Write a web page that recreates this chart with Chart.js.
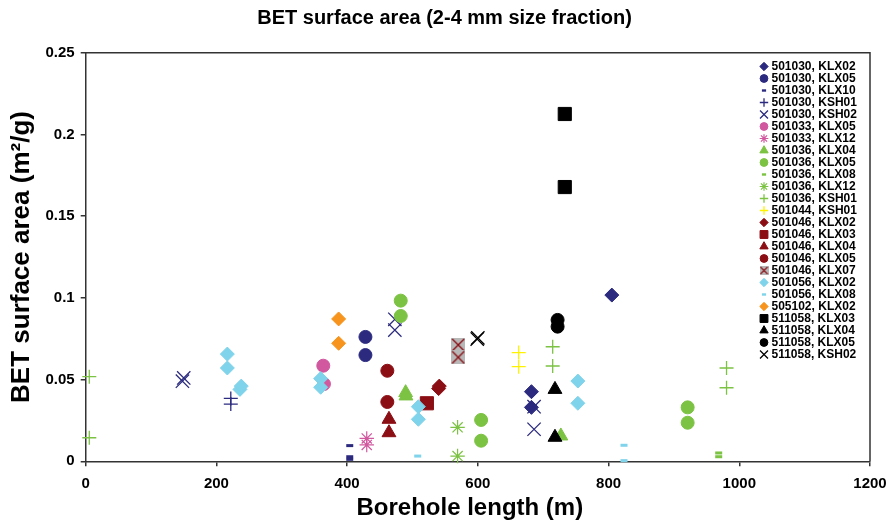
<!DOCTYPE html>
<html>
<head>
<meta charset="utf-8">
<style>
html,body{margin:0;padding:0;background:#ffffff;}
#wrap{width:889px;height:531px;position:relative;}
</style>
<script src="https://cdn.jsdelivr.net/npm/chart.js@4/dist/chart.umd.min.js"></script>
</head>
<body>
<div id="wrap"><canvas id="c" width="889" height="531"></canvas></div>
<script>
const FONT = "'Liberation Sans', Arial, Helvetica, sans-serif";

const chartTitle = 'BET surface area (2-4 mm size fraction)';
const xAxisTitle = 'Borehole length (m)';
const yAxisTitle = 'BET surface area (m²/g)';

const xTickValues = [0, 200, 400, 600, 800, 1000, 1200];
const xTickLabels = ['0', '200', '400', '600', '800', '1000', '1200'];
const yTickValues = [0, 0.05, 0.1, 0.15, 0.2, 0.25];
const yTickLabels = ['0', '0.05', '0.1', '0.15', '0.2', '0.25'];

const seriesNames = [
  '501030, KLX02', '501030, KLX05', '501030, KLX10', '501030, KSH01', '501030, KSH02',
  '501033, KLX05', '501033, KLX12',
  '501036, KLX04', '501036, KLX05', '501036, KLX08', '501036, KLX12', '501036, KSH01',
  '501044, KSH01',
  '501046, KLX02', '501046, KLX03', '501046, KLX04', '501046, KLX05', '501046, KLX07',
  '501056, KLX02', '501056, KLX08',
  '505102, KLX02',
  '511058, KLX03', '511058, KLX04', '511058, KLX05', '511058, KSH02'
];

// Borehole length (m) per series
const seriesX = [
  [682, 682, 805],
  [428, 428],
  [404, 404, 404],
  [222, 222],
  [148, 150, 473, 473, 686, 686],
  [363.5, 364.5],
  [430, 430],
  [489.5, 490, 727],
  [482, 482, 605, 605, 921, 921],
  [968.5, 968.5],
  [569, 569],
  [5.5, 5.5, 714.5, 714.5, 980.5, 980.5],
  [662.5, 662.5],
  [540, 541],
  [522],
  [464, 464],
  [461.5, 461.5],
  [570, 570],
  [216.7, 216.7, 236, 238, 359.5, 359.5, 509, 509, 753, 753],
  [508, 823.6, 823.6],
  [387, 387],
  [733, 733],
  [718, 718],
  [722, 722],
  [599, 600]
];

// BET surface area (m2/g) per series
const seriesY = [
  [0.0426, 0.0330, 0.1017],
  [0.0761, 0.0650],
  [0.0096, 0.0028, 0.0012],
  [0.0385, 0.0350],
  [0.0490, 0.0510, 0.0869, 0.0803, 0.0334, 0.0196],
  [0.0585, 0.0473],
  [0.0140, 0.0100],
  [0.0420, 0.0400, 0.0155],
  [0.0983, 0.0889, 0.0253, 0.0126, 0.0330, 0.0236],
  [0.0051, 0.0028],
  [0.0208, 0.0032],
  [0.0518, 0.0144, 0.0701, 0.0583, 0.0571, 0.0450],
  [0.0665, 0.0579],
  [0.0445, 0.0460],
  [0.0355],
  [0.0257, 0.0175],
  [0.0554, 0.0363],
  [0.0712, 0.0636],
  [0.0656, 0.0571, 0.0440, 0.0460, 0.0506, 0.0453, 0.0334, 0.0257, 0.0491, 0.0355],
  [0.0032, 0.0098, 0.0004],
  [0.0871, 0.0722],
  [0.2125, 0.1678],
  [0.0440, 0.0147],
  [0.0865, 0.0824],
  [0.0748, 0.0755]
];

const NAVY = '#2B2A7F', PINK = '#D1579F', GREEN = '#7CC243', YELLOW = '#FFF200',
      DRED = '#8B0E14', LBLUE = '#7FD3EA', ORANGE = '#F7941D', BLACK = '#000000';

const seriesColors = [
  NAVY, NAVY, NAVY, NAVY, NAVY,
  PINK, PINK,
  GREEN, GREEN, GREEN, GREEN, GREEN,
  YELLOW,
  DRED, DRED, DRED, DRED, DRED,
  LBLUE, LBLUE,
  ORANGE,
  BLACK, BLACK, BLACK, BLACK
];

const seriesShapes = [
  'diamond', 'circle', 'dash', 'plus', 'x',
  'circle', 'star',
  'triangle', 'circle', 'dash', 'star', 'plus',
  'plus',
  'diamond', 'square', 'triangle', 'circle', 'boxx',
  'diamond', 'dash',
  'diamond',
  'square', 'triangle', 'circle', 'x'
];

function makeBoxX(size, lw) {
  const cv = document.createElement('canvas');
  cv.width = size; cv.height = size;
  const g = cv.getContext('2d');
  g.fillStyle = '#B8B8B8';
  g.fillRect(0, 0, size, size);
  g.strokeStyle = DRED;
  g.lineWidth = lw;
  g.beginPath();
  g.moveTo(1, 1); g.lineTo(size - 1, size - 1);
  g.moveTo(size - 1, 1); g.lineTo(1, size - 1);
  g.stroke();
  return cv;
}
const boxXBig = makeBoxX(14, 1.4);
const boxXSmall = makeBoxX(9, 1.1);

function shapeStyle(shape, scale, small) {
  switch (shape) {
    case 'diamond': return { pointStyle: 'rectRot', radius: 7 * scale, borderWidth: 1 };
    case 'circle': return { pointStyle: 'circle', radius: 6.5 * scale, borderWidth: 1 };
    case 'dash': return { pointStyle: 'line', radius: 3.5 * scale, borderWidth: 3 * (small ? 0.8 : 1) };
    case 'plus': return { pointStyle: 'cross', radius: 7 * scale, borderWidth: 1.3 };
    case 'x': return { pointStyle: 'crossRot', radius: 9.4 * scale, borderWidth: 1.3 };
    case 'star': return { pointStyle: 'star', radius: 7.2 * scale, borderWidth: 1.2 };
    case 'triangle': return { pointStyle: 'triangle', radius: 8 * scale, borderWidth: 1 };
    case 'square': return { pointStyle: 'rect', radius: 9.3 * scale, borderWidth: 1 };
    case 'boxx': return { pointStyle: small ? boxXSmall : boxXBig, radius: 7 * scale, borderWidth: 1 };
  }
  return { pointStyle: 'circle', radius: 5 * scale, borderWidth: 1 };
}

const datasets = seriesNames.map((name, i) => {
  const st = shapeStyle(seriesShapes[i], 1, false);
  return {
    label: name,
    data: seriesX[i].map((x, j) => ({ x: x, y: seriesY[i][j] })),
    pointStyle: st.pointStyle,
    pointRadius: st.radius,
    pointHoverRadius: st.radius,
    pointBorderWidth: st.borderWidth,
    pointHoverBorderWidth: st.borderWidth,
    backgroundColor: seriesColors[i],
    borderColor: seriesColors[i],
    showLine: false,
    clip: false,
    order: -i
  };
});

const framePlugin = {
  id: 'frame',
  beforeDatasetsDraw(chart) {
    const a = chart.chartArea, ctx = chart.ctx;
    ctx.save();
    ctx.strokeStyle = '#333333';
    ctx.lineWidth = 1.5;
    ctx.beginPath();
    ctx.moveTo(a.left, a.top);
    ctx.lineTo(a.right, a.top);
    ctx.lineTo(a.right, a.bottom);
    ctx.stroke();
    ctx.restore();
  }
};

const xTitlePlugin = {
  id: 'xTitle',
  afterDraw(chart) {
    const a = chart.chartArea, ctx = chart.ctx;
    ctx.save();
    ctx.font = 'bold 24px ' + FONT;
    ctx.fillStyle = '#000000';
    ctx.textAlign = 'center';
    ctx.textBaseline = 'middle';
    ctx.fillText(xAxisTitle, (a.left + a.right) / 2 - 8, a.bottom + 47);
    ctx.restore();
  }
};

const legendPlugin = {
  id: 'insideLegend',
  afterDraw(chart) {
    const a = chart.chartArea, ctx = chart.ctx;
    const mx = a.right - 106;
    const tx = a.right - 98.5;
    const y0 = a.top + 13.8;
    const step = 12;
    ctx.save();
    ctx.font = 'bold 12px ' + FONT;
    ctx.textBaseline = 'middle';
    ctx.textAlign = 'left';
    seriesNames.forEach((name, i) => {
      const y = y0 + i * step;
      const st = shapeStyle(seriesShapes[i], 0.6, true);
      ctx.save();
      ctx.fillStyle = seriesColors[i];
      ctx.strokeStyle = seriesColors[i];
      ctx.lineWidth = st.borderWidth;
      Chart.helpers.drawPoint(ctx, { pointStyle: st.pointStyle, radius: st.radius, borderWidth: st.borderWidth, rotation: 0 }, mx, y);
      ctx.restore();
      ctx.fillStyle = '#000000';
      ctx.fillText(name, tx, y + 0.5);
    });
    ctx.restore();
  }
};

new Chart(document.getElementById('c'), {
  type: 'scatter',
  data: { datasets: datasets },
  plugins: [framePlugin, legendPlugin, xTitlePlugin],
  options: {
    responsive: false,
    animation: false,
    devicePixelRatio: 1,
    layout: { padding: { left: 0, right: 0, top: 0, bottom: 0 } },
    plugins: {
      legend: { display: false },
      tooltip: { enabled: false },
      title: {
        display: true,
        fullSize: true,
        text: chartTitle,
        color: '#000000',
        font: { family: FONT, size: 20, weight: 'bold', lineHeight: 1.2 },
        padding: { top: 6, bottom: 22.7 }
      }
    },
    scales: {
      x: {
        type: 'linear',
        position: 'bottom',
        min: 0, max: 1200,
        afterFit(scale) { scale.height = 69.7; scale.paddingLeft = 0; scale.paddingRight = 19; },
        afterBuildTicks(scale) { scale.ticks = xTickValues.map(v => ({ value: v })); },
        ticks: {
          color: '#000000',
          font: { family: FONT, size: 15, weight: 'bold' },
          padding: 9,
          maxRotation: 0,
          autoSkip: false,
          callback(v) { const i = xTickValues.indexOf(v); return i >= 0 ? xTickLabels[i] : ''; }
        },
        grid: { display: true, drawOnChartArea: false, drawTicks: true, tickLength: 5, color: '#333333', lineWidth: 1.5 },
        border: { display: true, color: '#333333', width: 1.5 },
        title: { display: false, text: xAxisTitle }
      },
      y: {
        type: 'linear',
        position: 'left',
        min: 0, max: 0.25,
        afterFit(scale) { scale.width = 85.7; scale.paddingTop = 0; scale.paddingBottom = 0; },
        afterBuildTicks(scale) { scale.ticks = yTickValues.map(v => ({ value: v })); },
        ticks: {
          color: '#000000',
          font: { family: FONT, size: 15, weight: 'bold' },
          padding: 6,
          autoSkip: false,
          callback(v) {
            const i = yTickValues.findIndex(t => Math.abs(t - v) < 1e-9);
            return i >= 0 ? yTickLabels[i] : '';
          }
        },
        grid: { display: true, drawOnChartArea: false, drawTicks: true, tickLength: 5, color: '#333333', lineWidth: 1.5 },
        border: { display: true, color: '#333333', width: 1.5 },
        title: {
          display: true,
          text: yAxisTitle,
          color: '#000000',
          font: { family: FONT, size: 26, weight: 'bold', lineHeight: 1.2 },
          padding: { top: 6.4, bottom: 0 }
        }
      }
    }
  }
});
</script>
</body>
</html>
